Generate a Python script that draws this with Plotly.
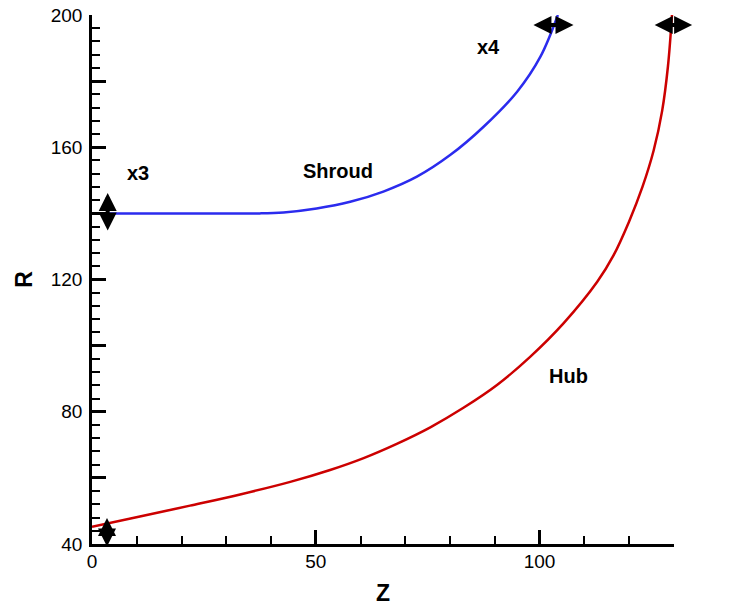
import plotly.graph_objects as go

# Data
hub_z = [0.0, 10.7, 21.9, 33.1, 44.3, 53.2, 60.7, 68.1, 75.6, 83.0, 90.5, 97.9, 105.4, 112.9, 116.5, 120.0,
         123.0, 125.5, 127.4, 128.7, 129.6]
hub_r = [45.2, 48.3, 51.6, 55.0, 58.8, 62.4, 66.0, 70.3, 75.3, 81.2, 88.1, 96.6, 106.8, 119.3, 127.2, 137.5,
         148.0, 159.0, 171.0, 184.5, 200.0]

shroud_z = [3.5, 20.0, 37.6, 42.8, 50.2, 57.7, 65.1, 72.6, 80.1, 87.5, 95.0, 100.2, 104.1]
shroud_r = [140.0, 140.0, 140.0, 140.3, 141.5, 143.5, 146.6, 151.1, 157.7, 166.2, 176.8, 187.4, 200.0]

# Double arrows: (z_start, r_start, z_end, r_end)
arrows = {
    "x1": (3.35, 38.8, 3.35, 47.9),
    "x3": (3.5, 134.4, 3.5, 146.2),
    "x4": (98.3, 197.0, 107.6, 197.0),
    "x2": (125.4, 197.0, 134.1, 197.0),
}

# Text labels: (text, z, r)
labels = [
    ("x1", 8.7, 31.0),
    ("x3", 10.3, 152.3),
    ("Shroud", 55.0, 152.8),
    ("x4", 88.5, 190.2),
    ("x2", 141.5, 191.0),
    ("Hub", 106.5, 90.9),
]

# Major ticks every 20 on R (labelled every 40), minor every 4; Z major every 50, minor every 10
y_blank_labels = {60: "", 100: "", 140: "", 180: ""}
Z_RANGE = [0, 130.05]
R_RANGE = [40, 200]

FONT = "Liberation Sans, Arial, Helvetica, sans-serif"

fig = go.Figure()
fig.add_trace(go.Scatter(x=hub_z, y=hub_r, mode="lines", line=dict(color="#cc0000", width=2.5, shape="spline"),
                         name="Hub", showlegend=False, cliponaxis=False))
fig.add_trace(go.Scatter(x=shroud_z, y=shroud_r, mode="lines", line=dict(color="#2b2bee", width=2.5, shape="spline"),
                         name="Shroud", showlegend=False, cliponaxis=False))

for name, (z0, r0, z1, r1) in arrows.items():
    fig.add_annotation(x=z1, y=r1, ax=z0, ay=r0, xref="x", yref="y", axref="x", ayref="y",
                       showarrow=True, arrowside="end+start", arrowhead=2, startarrowhead=2,
                       arrowsize=0.9, startarrowsize=0.9, arrowwidth=4, arrowcolor="black", text="")

for text, z, r in labels:
    fig.add_annotation(x=z, y=r, xref="x", yref="y", text=f"<b>{text}</b>", showarrow=False,
                       font=dict(family=FONT, size=20, color="black"))

axis_common = dict(showgrid=False, zeroline=False, showline=True, linecolor="black", linewidth=2.5,
                   ticks="inside", ticklen=14, tickwidth=2.5, tickcolor="black", automargin=False,
                   tickfont=dict(family=FONT, size=19, color="black"), mirror=False)

fig.update_xaxes(range=Z_RANGE, tickmode="linear", tick0=0, dtick=50,
                 minor=dict(ticks="inside", dtick=10, ticklen=8, tickwidth=1.6, tickcolor="black"),
                 ticklabelstandoff=-2,
                 title=dict(text="<b>Z</b>", font=dict(family=FONT, size=23, color="black"), standoff=20),
                 **axis_common)
fig.update_yaxes(range=R_RANGE, tickmode="linear", tick0=40, dtick=20, labelalias=y_blank_labels,
                 minor=dict(ticks="inside", dtick=4, ticklen=8, tickwidth=1.6, tickcolor="black"),
                 ticklabelstandoff=3,
                 title=dict(text="<b>R</b>", font=dict(family=FONT, size=23, color="black"), standoff=12),
                 **axis_common)

fig.update_layout(width=738, height=606, margin=dict(l=92, r=64, t=15, b=62),
                  plot_bgcolor="white", paper_bgcolor="white", showlegend=False)

fig.write_html("out.html")
